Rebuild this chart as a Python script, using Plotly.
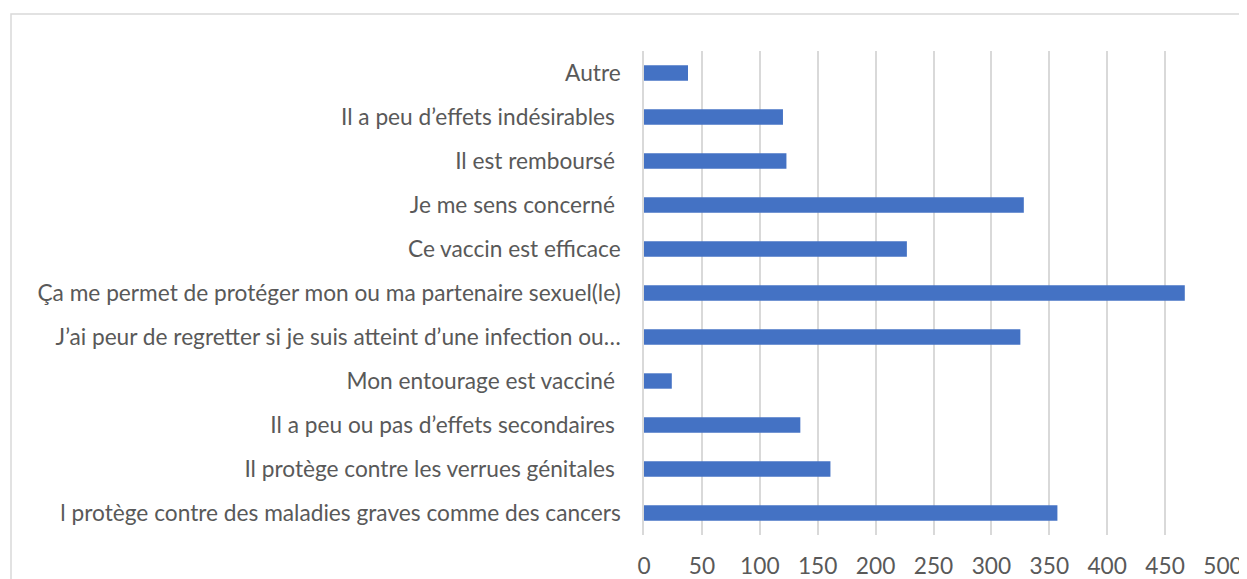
import plotly.graph_objects as go

# reasons, listed bottom to top as they appear on the chart
categories = [
    "l protège contre des maladies graves comme des cancers",
    "Il protège contre les verrues génitales\u00a0",
    "Il a peu ou pas d’effets secondaires\u00a0",
    "Mon entourage est vacciné\u00a0",
    "J’ai peur de regretter si je suis atteint d’une infection ou…",
    "Ça me permet de protéger mon ou ma partenaire sexuel(le)",
    "Ce vaccin est efficace",
    "Je me sens concerné\u00a0",
    "Il est remboursé\u00a0",
    "Il a peu d’effets indésirables\u00a0",
    "Autre",
]
counts = [357, 161, 135, 24, 325, 467, 227, 328, 123, 120, 38]
x_ticks = [0, 50, 100, 150, 200, 250, 300, 350, 400, 450, 500]

BAR_COLOR = '#4472C4'
GRID_COLOR = '#D9D9D9'
TEXT_COLOR = '#595959'
FONT = 'Lato, "Open Sans", sans-serif'

# the page body adds an 8px margin, so the figure is sized to fit inside it
FIG_W, FIG_H = 1239, 571
PLOT_L, PLOT_R, PLOT_T, PLOT_B = 636, 1215, 43, 527

fig = go.Figure(go.Bar(
    y=categories,
    x=counts,
    orientation='h',
    marker=dict(color=BAR_COLOR, line=dict(width=0)),
    width=0.35,
    hovertemplate='%{y}: %{x}<extra></extra>',
))

fig.update_layout(
    width=FIG_W,
    height=FIG_H,
    template=None,
    paper_bgcolor='white',
    plot_bgcolor='white',
    margin=dict(l=PLOT_L, r=FIG_W - PLOT_R, t=PLOT_T, b=FIG_H - PLOT_B),
    showlegend=False,
    font=dict(family=FONT, size=22.7, color=TEXT_COLOR),
    xaxis=dict(
        range=[0, 500],
        tickvals=x_ticks,
        showgrid=True,
        gridcolor=GRID_COLOR,
        gridwidth=1.5,
        zeroline=False,
        showline=False,
        ticks='',
        ticklabelstandoff=15,
        automargin=False,
        fixedrange=True,
    ),
    yaxis=dict(
        type='category',
        categoryorder='array',
        categoryarray=categories,
        range=[-0.5, len(categories) - 0.5],
        showgrid=False,
        zeroline=False,
        showline=True,
        linecolor=GRID_COLOR,
        linewidth=1.5,
        ticks='',
        ticklabelstandoff=17,
        automargin=False,
        fixedrange=True,
    ),
)

# chart frame (right and bottom edges fall outside the picture)
pw = PLOT_R - PLOT_L
ph = PLOT_B - PLOT_T
fig.add_shape(
    type='rect', xref='paper', yref='paper',
    x0=(3 - PLOT_L) / pw, x1=(FIG_W + 20 - PLOT_L) / pw,
    y0=-0.15, y1=(PLOT_B - 6) / ph,
    line=dict(color=GRID_COLOR, width=1.5),
    fillcolor='rgba(0,0,0,0)',
    layer='below',
)

fig.write_html("out.html")
